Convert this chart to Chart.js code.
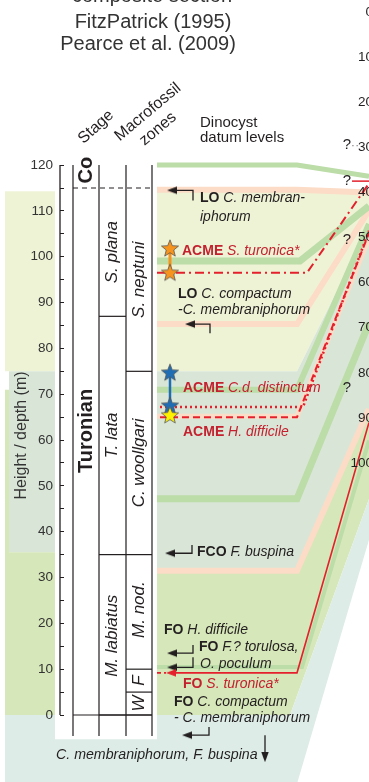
<!DOCTYPE html>
<html>
<head>
<meta charset="utf-8">
<script src="https://cdn.jsdelivr.net/npm/chart.js@4.4.1/dist/chart.umd.min.js"></script>
<style>
  html, body { margin: 0; padding: 0; background: #fff; overflow: hidden; }
  #wrap { width: 369px; height: 782px; position: relative; }
</style>
</head>
<body>
<div id="wrap"><canvas id="chart"></canvas></div>
<script>
// ---- values ----
// right-hand section, depth (m); labels get cut by the page edge
const depthTicks = [0, 10, 20, 30, 40, 50, 60, 70, 80, 90, 100];

// stage and macrofossil zones (height in m)
const stageNames = ['Co', 'Turonian'];
const stageMid = [118.9, 62];
const zoneNamesA = ['S. plana', 'T. lata', 'M. labiatus'];
const zoneMidA = [101, 61, 17.3];
const zoneNamesB = ['S. neptuni', 'C. woollgari', 'M. nod.', 'F', 'W'];
const zoneMidB = [95, 55, 23, 7.5, 2.5];
const zoneLinesA = [87, 35, 0];
const zoneLinesB = [75, 35, 10, 5, 0];
const coniacianBase = 115;

// correlation bands: height on the left, depth where they meet the right section
const greenHeights = [120, 99.1, 71, 47.2, 10.5];
const greenDepths = [36.4, 43, 47, 69, 95];
const orangeHeights = [114.6, 85.3, 65.2, 31.5];
const orangeDepths = [40, 44, 50, 88];

// coloured intervals, boundary heights and matching depths
const intervalHeights = [114.3, 75, 31.5, 0, -15];
const intervalDepths = [40, 47.5, 88, 108, 117];
const stripGreyBase = 35.5;
const stripGreenTop = 71;

// red dinocyst datums [height, depth]
const acmeTuronica = [96.5, 38];
const acmeDistinctum = [67.2, 48.5];
const acmeDifficile = [65, 49];
const foTuronica = [9.2, 91];
const questionDepths = [29.5, 37.5, 50.5, 83.4];

// stars
const starHeights = [101.9, 96.6, 74.8, 67.6, 65.5];
const starColors = ['#f7941d', '#f7941d', '#1f6db4', '#1f6db4', '#fff200'];

// black datum arrows
const arrowHeights = [114.5, 85.3, 35.3, 13.5, 10.4, -4.4];

// ---- layout ----
const FONT = '"Liberation Sans", Arial, Helvetica, sans-serif';
const K = '#231f20', RED = '#e3202c', RTXT = '#c4212f';
const GREEN = '#bcdca8', ORANGE = '#fcdcc6';
const Y_MIN = -14.62, Y_MAX = 156.03;
const D_MIN = -2.66, D_MAX = 170.73;
const X_PANEL = 157, X_END = 369, X_STAR = 170;
const colX = [73, 99, 126, 152];

// right-section depth expressed on the left height scale (both span the same area)
function depthToHeight(d) {
    return Y_MAX - (d - D_MIN) / (D_MAX - D_MIN) * (Y_MAX - Y_MIN);
}
function corr(h, d, knee, x0) {
    return [{x: x0 || X_PANEL, y: h}, {x: knee, y: h}, {x: X_END, y: depthToHeight(d)}];
}

const datasets = [];
function add(ds) {
    datasets.push(Object.assign({
        showLine: true, pointRadius: 0, borderWidth: 0, borderColor: 'transparent',
        fill: false, tension: 0, yAxisID: 'y', xAxisID: 'x'
    }, ds));
}
function poly(points, color) {
    add({data: points, backgroundColor: color, fill: 'shape'});
}
function line(points, color, width, dash) {
    add({data: points, borderColor: color, borderWidth: width, borderDash: dash || []});
}
function img(w, h, paint) {
    const c = document.createElement('canvas');
    c.width = w; c.height = h;
    paint(c.getContext('2d'));
    return c;
}
function starImage(color) {
    return img(20, 20, g => {
        g.beginPath();
        for (let i = 0; i < 10; i++) {
            const r = i % 2 ? 3.9 : 9;
            const a = -Math.PI / 2 + i * Math.PI / 5;
            const px = 10 + r * Math.cos(a), py = 10.8 + r * Math.sin(a);
            if (i) g.lineTo(px, py); else g.moveTo(px, py);
        }
        g.closePath();
        g.fillStyle = color; g.fill();
        g.strokeStyle = '#555'; g.lineWidth = 0.8; g.stroke();
    });
}
function headLeft(color) {
    return img(10, 10, g => {
        g.fillStyle = color; g.beginPath();
        g.moveTo(0, 5); g.lineTo(10, 1.3); g.lineTo(10, 8.7); g.closePath(); g.fill();
    });
}
function headDown(color) {
    return img(10, 10, g => {
        g.fillStyle = color; g.beginPath();
        g.moveTo(5, 10); g.lineTo(1.3, 0); g.lineTo(8.7, 0); g.closePath(); g.fill();
    });
}

// coloured intervals
const ih = intervalHeights, idp = intervalDepths.map(depthToHeight);
poly([{x: 5, y: ih[0]}, {x: X_END, y: ih[0]}, {x: X_END, y: idp[1]}, {x: 297, y: ih[1]}, {x: 5, y: ih[1]}], '#eff3d6');
poly([{x: 9, y: ih[1]}, {x: 297, y: ih[1]}, {x: X_END, y: idp[1]}, {x: X_END, y: idp[2]}, {x: 297, y: ih[2]},
      {x: 120, y: ih[2]}, {x: 120, y: stripGreyBase}, {x: 9, y: stripGreyBase}], '#d9e6d7');
poly([{x: 5, y: stripGreenTop}, {x: 9, y: stripGreenTop}, {x: 9, y: stripGreyBase}, {x: 120, y: stripGreyBase},
      {x: 120, y: ih[2]}, {x: 297, y: ih[2]}, {x: X_END, y: idp[2]}, {x: X_END, y: idp[3]}, {x: 290, y: ih[3]},
      {x: 5, y: ih[3]}], '#d6e7b9');
poly([{x: 5, y: ih[3]}, {x: 290, y: ih[3]}, {x: X_END, y: idp[3]}, {x: X_END, y: idp[4]}, {x: 297, y: ih[4]},
      {x: 5, y: ih[4]}], '#ddece7');
// white panel behind the zone columns
poly([{x: 55, y: 116}, {x: X_PANEL, y: 116}, {x: X_PANEL, y: -5.3}, {x: 55, y: -5.3}], '#ffffff');

// pale orange and green correlation bands
const orangeKnee = [297, 297, 297, 297], orangeWidth = [6, 6, 5, 6];
orangeHeights.forEach((h, i) => line(corr(h, orangeDepths[i], orangeKnee[i]), ORANGE, orangeWidth[i]));
const greenKnee = [297, 300, 297, 297, 302], greenWidth = [5, 7, 6, 7, 4];
greenHeights.forEach((h, i) => line(corr(h, greenDepths[i], greenKnee[i]), GREEN, greenWidth[i]));

// red datum lines
line(corr(acmeTuronica[0], acmeTuronica[1], 307), RED, 2, [9, 4, 2, 4]);
line([{x: 352, y: depthToHeight(37.5)}, {x: X_END, y: depthToHeight(37.5)}], RED, 1.5);
line(corr(acmeDistinctum[0], acmeDistinctum[1], 303, 160), RED, 2.5, [2, 3]);
line(corr(acmeDifficile[0], acmeDifficile[1], 297, 160), RED, 2, [7, 4]);
line([{x: 172, y: foTuronica[0]}, {x: 297, y: foTuronica[0]}, {x: X_END, y: depthToHeight(foTuronica[1])}], RED, 1.6);
line([{x: X_PANEL, y: foTuronica[0]}, {x: 166, y: foTuronica[0]}], RED, 1.6, [4, 3]);

// star connectors
line([{x: X_STAR, y: starHeights[0]}, {x: X_STAR, y: starHeights[1]}], '#f7941d', 3);
line([{x: X_STAR, y: starHeights[2]}, {x: X_STAR, y: starHeights[3]}], '#1f6db4', 2.5);

// column frame
line([{x: 60, y: 0}, {x: 60, y: 120}], K, 1.3);
colX.forEach(cx => line([{x: cx, y: 120}, {x: cx, y: -4.6}], K, 1.2));
line([{x: colX[0], y: coniacianBase}, {x: colX[3], y: coniacianBase}], K, 1.2, [5, 4]);
line([{x: colX[0], y: 0}, {x: colX[3], y: 0}], K, 1.2);
zoneLinesA.forEach(h => line([{x: colX[1], y: h}, {x: colX[2], y: h}], K, 1.2));
zoneLinesB.forEach(h => line([{x: colX[2], y: h}, {x: colX[3], y: h}], K, 1.2));

// black arrows
const arrowTip = [167, 185, 165, 167, 167, 182];
const arrowBend = [193, 210, 192, 193, 193, 209];
const arrowHook = [-2.2, -2, 1.8, 1.8, 2.2, 1.8];
arrowHeights.forEach((h, i) => {
    line([{x: arrowTip[i] + 4, y: h}, {x: arrowBend[i], y: h}, {x: arrowBend[i], y: h + arrowHook[i]}], K, 1.3);
});
line([{x: 265, y: -4.4}, {x: 265, y: -8.6}], K, 1.3);
const headL = headLeft(K), headR = headLeft(RED);
add({showLine: false, pointRadius: 5, pointStyle: headL,
     data: arrowHeights.map((h, i) => ({x: arrowTip[i] + 5, y: h}))});
add({showLine: false, pointRadius: 5, pointStyle: headR, data: [{x: 171, y: foTuronica[0]}]});
add({showLine: false, pointRadius: 5, pointStyle: headDown(K), data: [{x: 265, y: -9.2}]});

// stars
add({showLine: false, pointRadius: 9, pointStyle: starColors.map(starImage),
     data: starHeights.map(h => ({x: X_STAR, y: h}))});

datasets.forEach((d, i) => { d.order = datasets.length - i; });

// ---- text ----
const datumLabels = [
    {h: 112.8, x: 200, parts: [['LO ', 'bold', K], ['C. membran-', 'italic', K]]},
    {h: 108.7, x: 200, parts: [['iphorum', 'italic', K]]},
    {h: 101.2, x: 182, parts: [['ACME ', 'bold', RTXT], ['S. turonica*', 'italic', RTXT]]},
    {h: 91.9, x: 178, parts: [['LO ', 'bold', K], ['C. compactum', 'italic', K]]},
    {h: 88.4, x: 178, parts: [['-C. membraniphorum', 'italic', K]]},
    {h: 71.4, x: 183, parts: [['ACME ', 'bold', RTXT], ['C.d. distinctum', 'italic', RTXT]]},
    {h: 61.8, x: 183, parts: [['ACME ', 'bold', RTXT], ['H. difficile', 'italic', RTXT]]},
    {h: 35.6, x: 197, parts: [['FCO ', 'bold', K], ['F. buspina', 'italic', K]]},
    {h: 18.5, x: 164, parts: [['FO ', 'bold', K], ['H. difficile', 'italic', K]]},
    {h: 14.8, x: 199, parts: [['FO ', 'bold', K], ['F.? torulosa,', 'italic', K]]},
    {h: 11.1, x: 200, parts: [['O. poculum', 'italic', K]]},
    {h: 6.8, x: 183, parts: [['FO ', 'bold', RTXT], ['S. turonica*', 'italic', RTXT]]},
    {h: 2.8, x: 174, parts: [['FO ', 'bold', K], ['C. compactum', 'italic', K]]},
    {h: -0.7, x: 174, parts: [['- C. membraniphorum', 'italic', K]]},
    {h: -8.7, x: 56, parts: [['C. membraniphorum, F. buspina', 'italic', K]], size: 14.2}
];

function rich(ctx, x, y, parts, size) {
    let cx = x;
    parts.forEach(([txt, style, color]) => {
        ctx.font = style + ' ' + size + 'px ' + FONT;
        ctx.fillStyle = color;
        ctx.fillText(txt, cx, y);
        cx += ctx.measureText(txt).width;
    });
}
function rotText(ctx, text, x, y, deg, font, color) {
    ctx.save();
    ctx.translate(x, y);
    ctx.rotate(deg * Math.PI / 180);
    ctx.font = font;
    ctx.fillStyle = color || K;
    ctx.textAlign = 'center';
    ctx.textBaseline = 'middle';
    ctx.fillText(text, 0, 0);
    ctx.restore();
}

const figureText = {
    id: 'figureText',
    afterDatasetsDraw(chart) {
        const {ctx} = chart;
        const y = chart.scales.y, yR = chart.scales.yR;
        ctx.save();
        ctx.textBaseline = 'middle';
        ctx.textAlign = 'left';
        datumLabels.forEach(l => rich(ctx, l.x, y.getPixelForValue(l.h), l.parts, l.size || 14));

        // column names
        stageNames.forEach((t, i) => rotText(ctx, t, 86, y.getPixelForValue(stageMid[i]), -90, 'bold 20px ' + FONT));
        zoneNamesA.forEach((t, i) => rotText(ctx, t, 112.5, y.getPixelForValue(zoneMidA[i]), -90, 'italic 17px ' + FONT));
        zoneNamesB.forEach((t, i) => rotText(ctx, t, 139, y.getPixelForValue(zoneMidB[i]), -90, 'italic 17px ' + FONT));

        // axis title and headers
        rotText(ctx, 'Height / depth (m)', 22, y.getPixelForValue(61), -90, '16px ' + FONT, '#333');
        rotText(ctx, 'Stage', 96, 127, -42, '16px ' + FONT);
        rotText(ctx, 'Macrofossil', 148, 112, -40, '16px ' + FONT);
        rotText(ctx, 'zones', 158, 129, -40, '16px ' + FONT);
        ctx.font = '15px ' + FONT;
        ctx.fillStyle = K;
        ctx.textBaseline = 'alphabetic';
        ctx.fillText('Dinocyst', 200, 127);
        ctx.fillText('datum levels', 200, 142);

        ctx.textAlign = 'center';
        ctx.font = '20px ' + FONT;
        ctx.fillStyle = '#333';
        ctx.fillText('composite section', 152, 2);
        ctx.fillText('FitzPatrick (1995)', 153, 28);
        ctx.fillText('Pearce et al. (2009)', 148, 50);

        // right section depth scale (cut by the page edge)
        ctx.textBaseline = 'middle';
        ctx.textAlign = 'right';
        ctx.font = '13.5px ' + FONT;
        ctx.fillStyle = K;
        depthTicks.forEach(d => ctx.fillText(String(d), 373, yR.getPixelForValue(d)));
        ctx.textAlign = 'center';
        ctx.font = '15px ' + FONT;
        questionDepths.forEach(d => ctx.fillText('?', 347, yR.getPixelForValue(d)));
        ctx.font = '13px ' + FONT;
        ctx.fillStyle = '#888';
        ctx.fillText('··', 355, yR.getPixelForValue(29.5));
        ctx.restore();
    }
};

function noPad(scale) {
    scale.paddingTop = 0; scale.paddingBottom = 0;
    scale.paddingLeft = 0; scale.paddingRight = 0;
}
function keepSection(scale) {
    scale.ticks = scale.ticks.filter(t => t.value >= -0.01 && t.value <= 120.01);
}

new Chart(document.getElementById('chart'), {
    type: 'scatter',
    data: { datasets: datasets },
    options: {
        responsive: true,
        maintainAspectRatio: false,
        animation: false,
        events: [],
        layout: { padding: 0, autoPadding: false },
        plugins: { legend: { display: false }, tooltip: { enabled: false } },
        scales: {
            x: { type: 'linear', min: 0, max: 369, display: false, afterFit: noPad },
            y: {
                type: 'linear', axis: 'y', position: { x: 60 }, min: Y_MIN, max: Y_MAX,
                border: { display: false },
                grid: { drawOnChartArea: false, drawTicks: true, tickLength: -4, color: K, lineWidth: 1, z: 1 },
                ticks: { display: false, stepSize: 5, z: 1 },
                afterBuildTicks: keepSection,
                afterFit: noPad
            },
            yLab: {
                type: 'linear', axis: 'y', position: { x: 53 }, min: Y_MIN, max: Y_MAX,
                border: { display: false },
                grid: { display: false },
                ticks: { stepSize: 10, autoSkip: false, color: '#333', font: { family: FONT, size: 13.5 }, z: 1 },
                afterBuildTicks: keepSection,
                afterFit: noPad
            },
            yR: { type: 'linear', axis: 'y', position: 'right', reverse: true, min: D_MIN, max: D_MAX, display: false }
        }
    },
    plugins: [figureText]
});
</script>
</body>
</html>
